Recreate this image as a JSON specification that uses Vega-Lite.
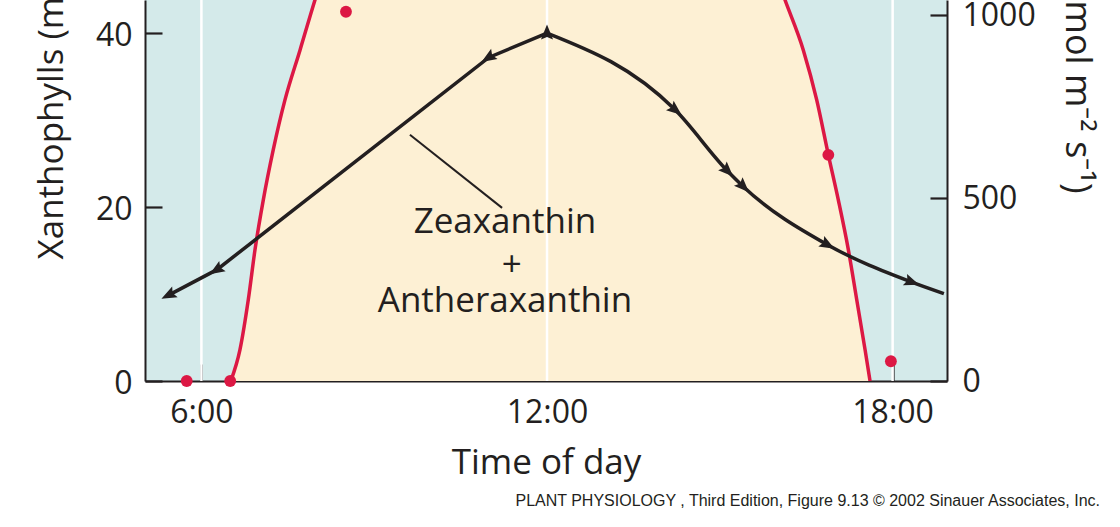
{
  "$schema": "https://vega.github.io/schema/vega-lite/v6.json",
  "width": 802,
  "height": 381,
  "autosize": {"type": "none"},
  "padding": {"left": 145, "top": 0, "right": 173, "bottom": 146},
  "background": "#ffffff",
  "config": {
    "view": {"fill": "#D4EAEA", "stroke": null},
    "font": "Open Sans",
    "axis": {
      "domainColor": "#231F20", "domainWidth": 2,
      "tickColor": "#231F20", "tickWidth": 2.2, "tickSize": -17,
      "labelColor": "#231F20", "titleColor": "#231F20",
      "labelFont": "Open Sans", "titleFont": "Open Sans",
      "labelFontSize": 32, "titleFontSize": 35, "titleFontWeight": "normal",
      "grid": false, "zindex": 1, "labelFlush": false, "labelOverlap": false
    }
  },
  "title": {
    "text": "PLANT PHYSIOLOGY , Third Edition, Figure 9.13  © 2002 Sinauer Associates, Inc.",
    "orient": "bottom", "anchor": "end", "frame": "group", "font": "Liberation Sans", "fontSize": 16,
    "fontWeight": "normal", "color": "#231F20", "dx": 153, "offset": 13
  },
  "datasets": {
    "flux_curve": [
      {"time": 6.51, "flux": 0},
      {"time": 6.67, "flux": 86},
      {"time": 6.814, "flux": 222},
      {"time": 6.931, "flux": 359},
      {"time": 7.075, "flux": 495},
      {"time": 7.248, "flux": 632},
      {"time": 7.451, "flux": 768},
      {"time": 7.712, "flux": 904},
      {"time": 7.972, "flux": 1041},
      {"time": 8.6, "flux": 1330},
      {"time": 10.0, "flux": 1800},
      {"time": 12.0, "flux": 2050},
      {"time": 14.0, "flux": 1800},
      {"time": 15.5, "flux": 1320},
      {"time": 16.132, "flux": 1041},
      {"time": 16.45, "flux": 904},
      {"time": 16.682, "flux": 768},
      {"time": 16.884, "flux": 618},
      {"time": 17.057, "flux": 495},
      {"time": 17.231, "flux": 359},
      {"time": 17.377, "flux": 222},
      {"time": 17.521, "flux": 86},
      {"time": 17.608, "flux": 0}
    ],
    "flux_obs": [
      {"time": 5.745, "flux": 0},
      {"time": 6.50, "flux": 0},
      {"time": 8.51, "flux": 1009},
      {"time": 16.884, "flux": 618},
      {"time": 17.97, "flux": 54}
    ],
    "xan": [
      {"time": 5.44, "xan": 9.9},
      {"time": 6.27, "xan": 12.8},
      {"time": 10.99, "xan": 37.2},
      {"time": 12.0, "xan": 40.0},
      {"time": 14.22, "xan": 31.2},
      {"time": 15.125, "xan": 24.2},
      {"time": 15.40, "xan": 22.4},
      {"time": 16.86, "xan": 15.7},
      {"time": 18.32, "xan": 11.4},
      {"time": 18.89, "xan": 10.05}
    ],
    "grid": [{"time": 6}, {"time": 12}, {"time": 18}],
    "leader": [{"t1": 9.62, "v1": 28.3, "t2": 11.22, "v2": 19.9}],
    "notes": [
      {"time": 11.27, "xan": 17.06, "label": "Zeaxanthin"},
      {"time": 11.39, "xan": 12.12, "label": "+"},
      {"time": 11.27, "xan": 7.98, "label": "Antheraxanthin"}
    ]
  },
  "resolve": {"scale": {"y": "independent"}, "axis": {"y": "independent"}},
  "layer": [
    {
      "layer": [
        {
          "data": {"name": "flux_curve"},
          "mark": {"type": "area", "color": "#FDF0D4", "interpolate": "monotone", "clip": true},
          "encoding": {
            "x": {"field": "time", "type": "quantitative",
                  "scale": {"domain": [5.021, 18.944], "nice": false, "zero": false},
                  "axis": {"title": "Time of day", "values": [6, 12, 18], "labelExpr": "datum.value + ':00'",
                           "labelBaseline": "alphabetic", "labelPadding": 58, "titleY": 92, "titleBaseline": "alphabetic"}},
            "y": {"field": "flux", "type": "quantitative",
                  "scale": {"domain": [0, 1041], "nice": false},
                  "axis": {"orient": "right", "title": "Photon flux (μmol m⁻² s⁻¹)", "values": [0, 500, 1000], "format": "d",
                           "labelPadding": 32, "titleAngle": 90, "titleAlign": "right", "titleBaseline": "alphabetic",
                           "titleX": 118, "titleY": 193, "titleFontSize": 36}}
          }
        },
        {
          "data": {"name": "grid"},
          "mark": {"type": "rule", "color": "#ffffff", "strokeWidth": 2.5},
          "encoding": {"x": {"field": "time", "type": "quantitative"}}
        },
        {
          "data": {"name": "flux_curve"},
          "mark": {"type": "line", "color": "#DC1844", "strokeWidth": 3.5, "interpolate": "monotone", "clip": true},
          "encoding": {
            "x": {"field": "time", "type": "quantitative"},
            "y": {"field": "flux", "type": "quantitative"}
          }
        },
        {
          "data": {"name": "flux_obs"},
          "mark": {"type": "point", "filled": true, "shape": "circle", "size": 140, "color": "#DC1844", "opacity": 1},
          "encoding": {
            "x": {"field": "time", "type": "quantitative"},
            "y": {"field": "flux", "type": "quantitative"}
          }
        }
      ]
    },
    {
      "layer": [
        {
          "data": {"name": "xan"},
          "transform": [{"filter": "datum.time <= 12"}],
          "mark": {"type": "line", "color": "#231F20", "strokeWidth": 3.5},
          "encoding": {
            "x": {"field": "time", "type": "quantitative"},
            "y": {"field": "xan", "type": "quantitative",
                  "scale": {"domain": [0, 43.8], "nice": false},
                  "axis": {"orient": "left", "title": "Xanthophylls (mmol mol⁻¹ chl)", "values": [0, 20, 40],
                           "labelPadding": 30, "labelOffset": 2, "titleAngle": 270, "titleAlign": "left", "titleBaseline": "alphabetic",
                           "titleX": -83, "titleY": 259}}
          }
        },
        {
          "data": {"name": "xan"},
          "transform": [{"filter": "datum.time >= 12"}],
          "mark": {"type": "line", "color": "#231F20", "strokeWidth": 3.5, "interpolate": "monotone"},
          "encoding": {
            "x": {"field": "time", "type": "quantitative"},
            "y": {"field": "xan", "type": "quantitative"}
          }
        },
        {
          "data": {"name": "xan"},
          "transform": [{"filter": "datum.time < 18.8"}],
          "mark": {"type": "point", "filled": true, "opacity": 1, "color": "#231F20", "size": 300,
                   "shape": "M0,-1L0.7,0.75L0,0.45L-0.7,0.75Z"},
          "encoding": {
            "x": {"field": "time", "type": "quantitative"},
            "y": {"field": "xan", "type": "quantitative"},
            "angle": {
              "condition": [
                {"test": "datum.time < 6", "value": 243},
                {"test": "datum.time < 11.5", "value": 238},
                {"test": "datum.time < 12.5", "value": 0},
                {"test": "datum.time < 14.5", "value": 129},
                {"test": "datum.time < 16", "value": 135},
                {"test": "datum.time < 17.5", "value": 119}
              ],
              "value": 110
            }
          }
        },
        {
          "data": {"name": "leader"},
          "mark": {"type": "rule", "color": "#231F20", "strokeWidth": 2},
          "encoding": {
            "x": {"field": "t1", "type": "quantitative"},
            "x2": {"field": "t2"},
            "y": {"field": "v1", "type": "quantitative"},
            "y2": {"field": "v2"}
          }
        },
        {
          "data": {"name": "notes"},
          "mark": {"type": "text", "font": "Open Sans", "fontSize": 35, "color": "#231F20", "align": "center", "baseline": "alphabetic"},
          "encoding": {
            "x": {"field": "time", "type": "quantitative"},
            "y": {"field": "xan", "type": "quantitative"},
            "text": {"field": "label"}
          }
        }
      ]
    }
  ]
}
